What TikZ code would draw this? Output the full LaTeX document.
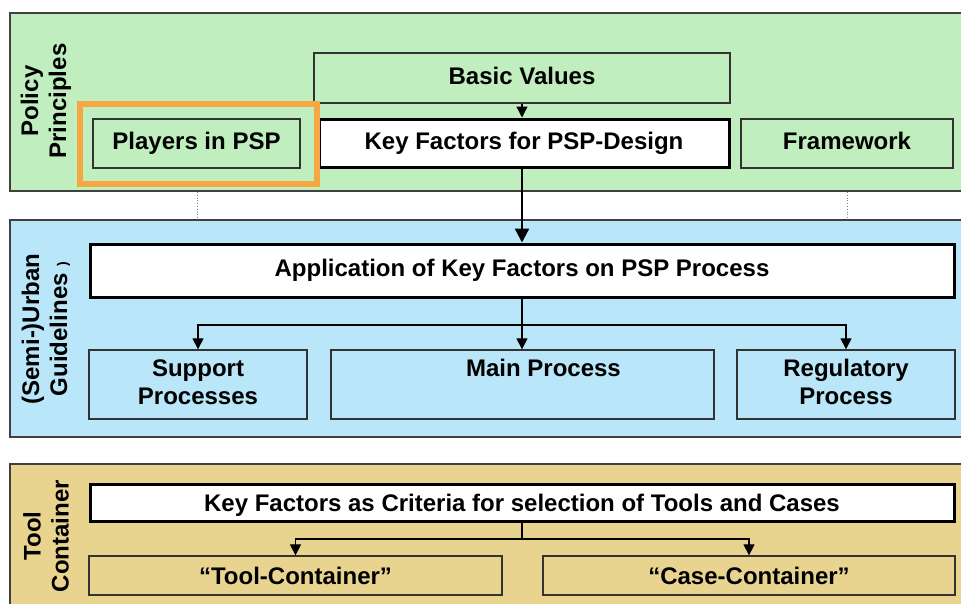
\documentclass[tikz,border=0pt]{standalone}
\usepackage{fontspec}
\setmainfont{Liberation Sans}
\usetikzlibrary{arrows.meta}

\definecolor{policygreen}{RGB}{192,238,190}
\definecolor{guideblue}{RGB}{185,230,248}
\definecolor{tooltan}{RGB}{232,212,143}
\definecolor{markorange}{RGB}{245,167,66}

\begin{document}
\begin{tikzpicture}[x=1pt,y=-1pt,>={Triangle[length=11pt,width=11pt]},
    layer/.style={draw=black!75,line width=1.2pt},
    box/.style={draw=black!80,line width=1.3pt,inner sep=0pt,align=center,
      text height=17pt,text depth=5pt,
      font=\bfseries\fontsize{24}{28}\selectfont},
    keybox/.style={box,fill=white,draw=black,line width=3pt},
    procbox/.style={box,fill=guideblue,minimum height=69pt,text height=45pt,text depth=5pt},
    tanbox/.style={text height=18pt,text depth=1pt},
    side/.style={rotate=90,align=center,font=\bfseries\fontsize{24}{28}\selectfont},
    link/.style={line width=1.2pt}]

    \useasboundingbox (0,0) rectangle (961,603);

    % The three layers
    \path[layer,fill=policygreen] (10,13) rectangle (975,191);
    \path[layer,fill=guideblue] (10,220) rectangle (975,437);
    \path[layer,fill=tooltan] (10,464) rectangle (975,620);
    \draw[black!50,dotted,line width=0.8pt] (197,192) -- (197,220);
    \draw[black!50,dotted,line width=0.8pt] (847,192) -- (847,220);

    % Layer titles
    \node [side] at (46,101) (policy) {Policy\\Principles};
    \node [side] at (46,329) (urban) {(Semi-)Urban\\Guidelines {\fontsize{14}{14}\selectfont)}};
    \node [side] at (46,536) (tool) {Tool\\Container};

    % Policy principles
    \node [box,fill=policygreen,minimum width=416pt,minimum height=50pt] at (522,78) (basic) {Basic Values};
    \node [keybox,minimum width=410pt,minimum height=48pt] at (524,143) (design) {Key Factors for PSP-Design};
    \node [box,fill=policygreen,minimum width=207pt,minimum height=49pt] at (196.5,143.5) (players) {Players in PSP};
    \node [box,fill=policygreen,minimum width=212pt,minimum height=49pt] at (847,143.5) (frame) {Framework};
    \draw[markorange,line width=5.5pt] (80,104) rectangle (317,184);

    % Guidelines
    \node [keybox,minimum width=864pt,minimum height=53pt] at (522,270.5) (apply) {Application of Key Factors on PSP Process};
    \node [procbox,minimum width=218pt] at (198,384.5) (support) {Support\\Processes};
    \node [procbox,minimum width=383pt] at (522.5,384.5) (main) {\hspace*{42pt}Main Process\\\mbox{}};
    \node [procbox,minimum width=218pt] at (846,384.5) (regul) {Regulatory\\Process};

    % Tool container
    \node [keybox,tanbox,minimum width=864pt,minimum height=37pt] at (522,502.5) (criteria) {Key Factors as Criteria for selection of Tools and Cases};
    \node [box,tanbox,fill=tooltan,minimum width=413pt,minimum height=39pt] at (295.5,575.5) (toolc) {``Tool-Container''};
    \node [box,tanbox,fill=tooltan,minimum width=412pt,minimum height=39pt] at (749,575.5) (casec) {``Case-Container''};

    \coordinate (split1) at (522,325);
    \coordinate (split2) at (522,539);

    % Connections
    \path[->,line width=1.3pt]
    (basic.south) edge (basic.south |- design.north);
    \path[->,line width=2.5pt,>={Triangle[length=14pt,width=14pt]}]
    (basic.south |- design.south) edge (basic.south |- apply.north);
    \draw[link] (apply.south -| split1) -- (split1);
    \draw[link] (criteria.south -| split2) -- (split2);
    \draw[link,->] (split1) -| (support.north);
    \draw[link,->] (split1) -- (split1 |- main.north);
    \draw[link,->] (split1) -| (regul.north);
    \draw[link,->] (split2) -| (toolc.north);
    \draw[link,->] (split2) -| (casec.north);

\end{tikzpicture}
\end{document}
